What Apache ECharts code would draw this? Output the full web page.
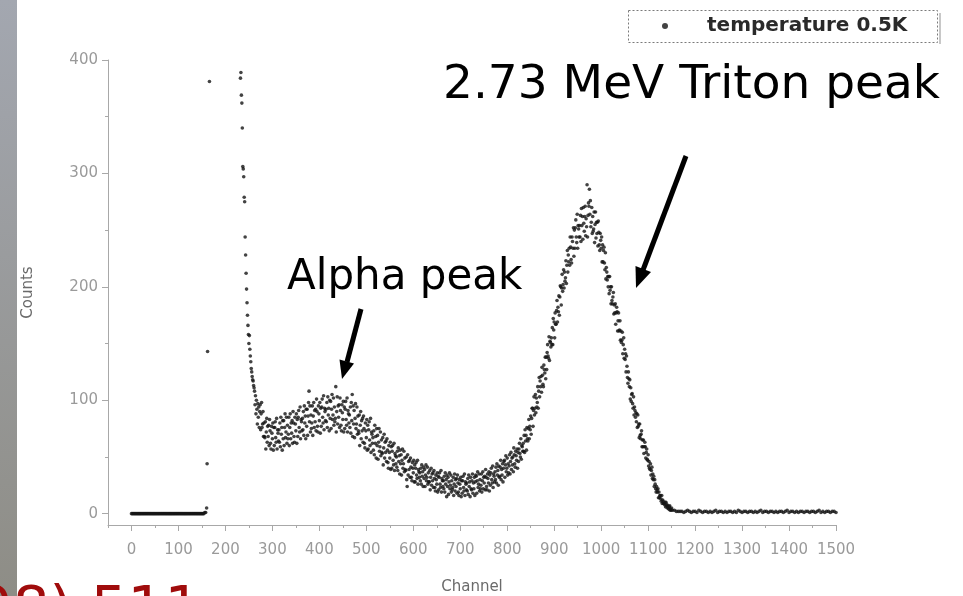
<!DOCTYPE html>
<html><head><meta charset="utf-8">
<script src="https://cdn.jsdelivr.net/npm/echarts@6/dist/echarts.min.js"></script>
<style>html,body{margin:0;padding:0;background:#fff}#c{width:963px;height:596px}</style>
</head><body><div id="c"></div>
<script>
// ---- tick labels ----
const xTickValues = [0,100,200,300,400,500,600,700,800,900,1000,1100,1200,1300,1400,1500];
const xMinorValues = [-50,50,150,250,350,450,550,650,750,850,950,1050,1150,1250,1350,1450];
const yTickValues = [0,100,200,300,400];
const yMinorValues = [50,150,250,350];
const seriesName = 'temperature 0.5K';

// ---- data: counts per channel ----
// channels 0..156, step 2
const flatStart = 0, flatStep = 2;
const flatCounts = [0,0,0,0,0,0,0,0,0,0, 0,0,0,0,0,0,0,0,0,0, 0,0,0,0,0,0,0,0,0,0, 0,0,0,0,0,0,0,0,0,0,
  0,0,0,0,0,0,0,0,0,0, 0,0,0,0,0,0,0,0,0,0, 0,0,0,0,0,0,0,0,0,0, 0,0,0,0,0,0,0,0,1];
// isolated points near channel 160
const edgeChannels = [158,160,161,162,166];
const edgeCounts = [1,5,44,143,381];
// steep fall, channels 232..273
const steepStart = 232;
const steepCounts = [384,389,369,362,340,306,304,297,279,275,
  244,228,212,198,186,175,166,158,150,157,
  145,139,134,128,125,121,118,117,113,111,
  108,96,104,88,100,92,79,97,85,94,
  76,90];
// channels 274..1150, step 1
const mainStart = 274;
const mainCounts = [
  96,74,88,98,76,79,90,68,80,68,   // 274
  67,81,57,72,84,63,77,68,78,60,   // 284
  83,73,62,57,77,71,66,80,56,76,   // 294
  60,76,81,67,63,84,57,74,71,64,   // 304
  74,63,80,59,85,70,76,56,82,66,   // 314
  82,60,76,88,67,72,85,62,78,66,   // 324
  70,85,60,76,88,66,80,71,82,62,   // 334
  90,80,68,63,85,79,73,88,62,83,   // 344
  68,85,91,76,72,94,66,83,81,73,   // 354
  84,74,90,69,95,80,86,66,92,77,   // 364
  92,69,86,98,108,81,95,72,87,75,  // 374
  80,95,69,86,98,76,91,81,92,73,   // 384
  101,90,77,72,95,88,82,98,71,93,  // 394
  77,94,101,85,80,104,74,93,90,82, // 404
  92,81,98,76,103,87,93,73,100,84, // 414
  99,75,92,105,83,87,102,78,94,81, // 424
  84,112,72,90,103,79,95,85,96,76, // 434
  102,91,78,73,96,89,83,99,72,94,  // 444
  75,92,99,83,78,102,72,91,88,80,  // 454
  87,76,94,71,98,82,105,68,95,79,  // 464
  91,67,84,97,75,79,94,70,86,73,   // 474
  71,87,60,78,90,66,82,73,84,63,   // 484
  86,75,62,58,80,73,67,83,56,78,   // 494
  57,74,81,65,60,84,54,72,70,62,   // 504
  67,56,73,52,78,62,68,49,75,60,   // 514
  69,48,63,75,55,59,72,51,65,54,   // 524
  53,67,43,58,70,49,63,54,64,46,   // 534
  66,56,45,40,60,54,49,63,39,59,   // 544
  40,55,60,47,43,62,38,53,51,44,   // 554
  50,41,55,38,58,46,51,35,56,44,   // 564
  52,34,47,57,40,44,55,37,49,39,   // 574
  38,50,30,24,52,34,46,39,47,32,   // 584
  49,41,32,29,45,40,36,47,28,43,   // 594
  28,40,45,34,31,47,26,39,37,32,   // 604
  36,29,40,26,43,33,37,24,41,31,   // 614
  39,24,34,43,29,32,41,26,36,28,   // 624
  28,38,21,32,40,25,35,29,36,23,   // 634
  38,31,23,20,34,30,26,36,19,33,   // 644
  21,32,36,26,23,38,19,31,29,24,   // 654
  29,22,33,19,36,26,30,15,34,24,   // 664
  32,17,28,36,22,25,34,19,29,21,   // 674
  23,32,16,26,35,20,30,24,31,18,   // 684
  34,27,19,16,30,26,22,32,15,29,   // 694
  18,29,33,23,20,35,16,28,26,21,   // 704
  27,20,31,17,34,24,28,15,32,22,   // 714
  21,29,35,18,27,22,32,16,28,34,   // 724
  33,18,29,37,23,26,35,20,30,22,   // 734
  25,35,19,29,37,22,32,27,33,21,   // 744
  39,32,24,21,35,31,27,37,20,34,   // 754
  25,36,40,30,27,42,23,35,33,28,   // 764
  37,30,41,27,44,34,38,25,42,32,   // 774
  33,41,47,30,39,34,44,28,40,46,   // 784
  47,32,43,51,37,40,49,34,44,36,   // 794
  42,52,35,46,54,39,49,43,50,37,   // 804
  58,52,44,41,55,51,47,57,40,54,   // 814
  46,57,62,53,50,66,48,60,59,55,   // 824
  62,55,69,54,74,64,69,56,76,66,   // 834
  64,75,83,66,77,74,86,70,84,93,   // 844
  93,77,91,103,87,93,105,89,102,94,        // 854
  98,112,93,108,120,103,117,112,121,107,   // 864
  129,122,114,112,131,127,124,138,119,138, // 874
  127,142,149,139,137,156,135,152,151,147, // 884
  155,149,164,149,172,162,169,155,177,167, // 894
  167,179,188,169,182,178,192,175,191,201, // 904
  200,184,199,211,196,202,215,199,213,205, // 914
  208,223,203,219,232,213,228,222,234,219, // 924
  244,235,224,221,244,240,234,252,227,250, // 934
  234,252,259,244,239,264,234,254,251,244, // 944
  254,244,263,240,269,254,262,242,270,256, // 954
  249,262,271,245,260,253,290,244,263,274, // 964
  271,286,264,276,253,257,270,247,262,249, // 974
  251,266,239,255,266,243,257,247,257,236, // 984
  258,248,237,232,247,241,234,244,222,237, // 994
  222,232,235,221,215,230,207,217,213,206, // 1004
  209,200,209,194,209,197,200,185,200,188, // 1014
  185,191,195,176,184,177,185,167,177,182, // 1024
  178,161,170,177,161,162,170,153,161,151, // 1034
  153,160,141,149,155,137,145,136,141,125, // 1044
  139,130,120,115,125,119,112,118,101,111, // 1054
  99,105,106,97,93,103,87,94,91,85,  // 1064
  89,81,88,76,87,77,79,67,79,69,     // 1074
  66,70,73,59,65,59,65,53,59,63,     // 1084
  59,49,54,57,48,47,52,42,46,40,     // 1094
  39,44,34,38,41,31,35,30,33,24,     // 1104
  30,26,22,19,24,21,19,22,14,19,     // 1114
  14,16,16,13,11,16,9,12,11,9,       // 1124
  9,8,10,6,10,7,8,5,7,5,             // 1134
  4,6,7,3,4,3,5                      // 1144
];
// channels 1152..1500, step 4
const tailStart = 1152, tailStep = 4;
const tailCounts = [3,3,2,2,2,2,1,2,3,2, 1,2,2,1,3,2,1,2,2,1, 2,1,2,3,1,2,2,1,2,1, 2,2,1,2,1,3,2,1,2,2,
  1,2,2,1,2,1,2,3,1,2, 2,1,2,2,1,2,1,2,2,1, 2,3,1,2,2,1,2,1,2,2, 1,2,2,1,2,2,1,2,3,1, 2,1,2,2,1,2,2,1];

const points = [];
flatCounts.forEach((v, i) => points.push([flatStart + i * flatStep, v]));
edgeChannels.forEach((c, i) => points.push([c, edgeCounts[i]]));
steepCounts.forEach((v, i) => points.push([steepStart + i, v]));
mainCounts.forEach((v, i) => points.push([mainStart + i, v]));
tailCounts.forEach((v, i) => points.push([tailStart + i * tailStep, v]));

const labelFont = 'DejaVu Sans';
const axisGray = '#a8a8a8';
const plain = v => String(v);

const chart = echarts.init(document.getElementById('c'), null, {renderer: 'canvas'});
chart.setOption({
  animation: false,
  backgroundColor: '#ffffff',
  grid: {left: 108, right: 127, top: 60, bottom: 71, containLabel: false, outerBoundsMode: 'none'},
  legend: {
    left: 628, top: 10, padding: [6, 20, 6, 34],
    itemWidth: 50, itemHeight: 6, icon: 'circle',
    data: [seriesName],
    textStyle: {fontFamily: labelFont, fontWeight: 'bold', fontSize: 20, color: '#2a2a2a', padding: [0, 0, 0, 12]}
  },
  xAxis: [{
    type: 'value', min: -50, max: 1500, position: 'bottom',
    axisLine: {onZero: false, lineStyle: {color: axisGray, width: 1}},
    axisTick: {customValues: xTickValues, length: 6, lineStyle: {color: axisGray}},
    axisLabel: {customValues: xTickValues, formatter: plain, margin: 18, color: '#9a9a9a', fontFamily: labelFont, fontSize: 15},
    splitLine: {show: false},
    name: 'Channel', nameLocation: 'middle', nameGap: 55,
    nameTextStyle: {fontFamily: labelFont, fontSize: 15, color: '#6a6a6a'}
  }, {
    type: 'value', min: -50, max: 1500, position: 'bottom',
    axisLine: {show: false, onZero: false},
    axisTick: {customValues: xMinorValues, length: 3, lineStyle: {color: axisGray}},
    axisLabel: {show: false}, splitLine: {show: false}
  }],
  yAxis: [{
    type: 'value', min: -10, max: 400, position: 'left',
    axisLine: {show: true, onZero: false, lineStyle: {color: axisGray, width: 1}},
    axisTick: {show: true, customValues: yTickValues, length: 6, lineStyle: {color: axisGray}},
    axisLabel: {customValues: yTickValues, formatter: plain, margin: 10, color: '#9a9a9a', fontFamily: labelFont, fontSize: 15},
    splitLine: {show: false},
    name: 'Counts', nameLocation: 'middle', nameGap: 72,
    nameTextStyle: {fontFamily: labelFont, fontSize: 15, color: '#6a6a6a'}
  }, {
    type: 'value', min: -10, max: 400, position: 'left',
    axisLine: {show: false, onZero: false},
    axisTick: {show: true, customValues: yMinorValues, length: 3, lineStyle: {color: axisGray}},
    axisLabel: {show: false}, splitLine: {show: false}
  }],
  series: [{
    name: seriesName, type: 'scatter', xAxisIndex: 0, yAxisIndex: 0,
    symbol: 'circle', symbolSize: 3.6,
    itemStyle: {color: '#141414'},
    data: points
  }],
  graphic: [
    {type: 'rect', left: 0, top: 0, z: 0, shape: {width: 17, height: 596},
      style: {fill: new echarts.graphic.LinearGradient(0, 0, 0, 1, [
        {offset: 0, color: '#a3a7b0'}, {offset: 1, color: '#8e8d86'}])}},
    {type: 'rect', z: 100, shape: {x: 628.5, y: 10.5, width: 309, height: 32},
      style: {fill: 'none', stroke: '#7a7a7a', lineWidth: 1, lineDash: [2, 2]}},
    {type: 'rect', z: 100, shape: {x: 939, y: 13, width: 2, height: 31}, style: {fill: '#c8c8c8'}},
    {type: 'text', z: 100, x: 443, y: 86,
      style: {text: '2.73 MeV Triton peak', fontFamily: 'DejaVu Sans', fontSize: 47, fill: '#000', align: 'left', verticalAlign: 'middle'}},
    {type: 'text', z: 100, x: 287, y: 278,
      style: {text: 'Alpha peak', fontFamily: 'DejaVu Sans', fontSize: 42, fill: '#000', align: 'left', verticalAlign: 'middle'}},
    {type: 'line', z: 100, shape: {x1: 686, y1: 156, x2: 643, y2: 270}, style: {stroke: '#000', lineWidth: 5}},
    {type: 'polygon', z: 100, shape: {points: [[636, 288], [651, 272], [635.5, 266]]}, style: {fill: '#000'}},
    {type: 'line', z: 100, shape: {x1: 361, y1: 309, x2: 347, y2: 362}, style: {stroke: '#000', lineWidth: 5}},
    {type: 'polygon', z: 100, shape: {points: [[342, 379], [354, 363.5], [339.5, 359.5]]}, style: {fill: '#000'}},
    {type: 'text', z: 100, x: -98, y: 613,
      style: {text: '2008) 511', fontFamily: 'DejaVu Sans', fontSize: 58, fill: '#a00c0c', align: 'left', verticalAlign: 'middle'}}
  ]
});
</script>
</body></html>
